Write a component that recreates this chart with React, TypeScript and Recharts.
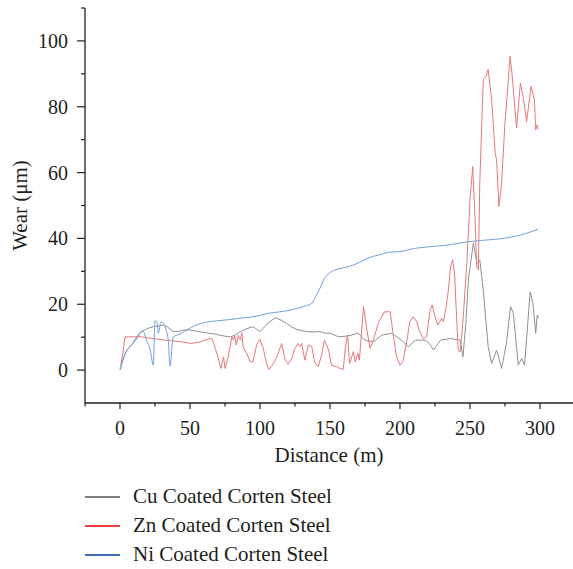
import React from 'react';
import { LineChart, Line, XAxis, YAxis, Legend } from 'recharts';

// Distance (m), wear (μm) pairs
const cuPoints: [number, number][] = [
  [0, 0], [2, 3], [4, 5.5], [7, 7.1], [11, 9], [15, 11.7], [20, 12.7], [24, 13.2], [28, 13.4], [31, 13.7],
  [34, 13.1], [38, 11.7], [43, 11.8], [46, 12.2], [50, 12.2], [56, 11.7], [62, 11.3], [68, 10.9], [75, 10.3],
  [79, 10.1], [83, 10.8], [86, 11.7], [90, 12.5], [95, 13.2], [100, 11.7], [104, 13.5], [108, 15], [111, 15.9],
  [115, 15.2], [119, 14.2], [123, 13], [126, 12.4], [130, 12], [133, 11.7], [138, 11.6], [143, 11.7], [146, 11.2],
  [150, 11.2], [156, 10.1], [161, 10.3], [165, 10.6], [170, 11.2], [175, 9.1], [181, 8.6], [187, 10.6], [194, 11.2],
  [201, 9.1], [206, 7.1], [211, 9.1], [218, 9.1], [221, 8.1], [224, 6.1], [229, 9.1], [236, 9.6], [243, 9.1],
  [245, 4], [247, 14], [249, 28], [252.4, 38.5], [255, 32.4], [257, 33.5], [259.5, 24.3], [263, 7.1], [265.5, 2],
  [269, 6.1], [272.6, 0.5], [276, 8.1], [279, 19.3], [281, 17.2], [284.5, 1.5], [287, 3.5], [289, 1.5],
  [293, 23.8], [295, 20.3], [297, 11.2], [298, 16.7], [299, 15.7],
];

const znPoints: [number, number][] = [
  [0.5, 1.5], [2, 5], [3.6, 10.1], [6, 10.1], [15, 10.1], [25, 9.5], [32, 9.1], [44, 8.6], [51, 8.1], [58, 8.6],
  [64, 9.6], [66, 9.4], [68, 6.6], [70, 4], [72, 0.5], [74, 4], [75, 0.5], [77, 3.5], [80, 10.1], [81, 9.1],
  [82, 10.3], [83, 7.6], [84.5, 10.6], [86, 9.1], [87, 11.4], [88, 7.1], [89, 6.1], [90.5, 5.1], [93, 2.5],
  [95, 2.5], [97.6, 7.6], [100, 9.3], [102, 7.1], [105, 1.5], [106.4, 0.2], [108, 1], [111, 3], [113, 5.1],
  [115.5, 8.1], [118, 3], [120, 1.8], [122.6, 3.5], [125, 6.6], [127, 8.1], [128.6, 7.1], [129.8, 8.1], [132, 3],
  [134.5, 7.6], [137, 7.1], [139, 2.5], [141.6, 1], [144, 4.6], [146, 9.1], [149, 6.1], [151, 1.5], [155, 1],
  [157, 0.5], [159.5, 0.2], [161, 7.1], [162.6, 10.6], [164, 2], [166.7, 5.6], [168, 2.5], [170, 5.1], [171, 3],
  [174, 19.3], [176, 13.2], [178.6, 6.6], [181, 9.1], [184.5, 14.2], [187, 16.2], [189, 17.7], [193, 17.7],
  [195, 11.2], [197.6, 4], [200, 1.5], [202, 2.5], [205, 9.1], [207, 14.7], [209.5, 16.2], [212, 14.7],
  [214, 11.7], [216.7, 9.6], [219, 10.1], [221.5, 18], [223, 19.8], [225, 16.2], [227, 13.7], [229.8, 15.7],
  [231, 14.7], [233, 19.3], [234.5, 24], [236, 31], [237.6, 33.5], [239, 29.4], [240, 20], [241.6, 6.1],
  [243, 5.5], [245, 15], [247.6, 31.4], [250, 51.7], [252, 61.8], [253.6, 46.6], [254.8, 31.4], [256, 30.4],
  [257, 56.8], [259.5, 88.2], [261.4, 89.2], [263, 91.3], [265.5, 82.1], [268, 65.9], [269, 63.9], [270.7, 49.7],
  [272.6, 56.8], [275, 75], [276.7, 84.2], [278.6, 95.3], [280, 90.2], [283.3, 73.5], [286, 87.2], [288, 83],
  [290.5, 75.5], [293.6, 86.2], [296, 82.1], [297, 73], [298, 74.5], [298.8, 73.2],
];

const niPoints: [number, number][] = [
  [0, 0], [2, 3], [5, 6], [8, 7.5], [11, 9.5], [14, 11.2], [16.7, 11.7], [19, 9], [21.4, 6.6], [23.8, 1.5],
  [25, 15], [26.5, 14.3], [27.4, 11.2], [29.3, 14.7], [33, 12.2], [34.5, 9], [35.7, 1.3], [38, 10], [44, 11.2],
  [51, 13], [58, 14.2], [68, 14.9], [75, 15.2], [85, 15.7], [95, 16.2], [107, 17.3], [119, 18], [131, 19.3],
  [137, 20.3], [140, 22.5], [143, 25], [146, 27.8], [151, 29.9], [157, 30.8], [163, 31.4], [170, 32.5],
  [177, 34], [185, 35], [192, 35.8], [200, 36], [211, 37], [222, 37.5], [234, 38], [249, 39], [258, 39.4],
  [270, 39.8], [282, 40.6], [290, 41.5], [298.6, 42.8],
];

const seriesNames = ['Cu Coated Corten Steel', 'Zn Coated Corten Steel', 'Ni Coated Corten Steel'];
const plotColors = ['#909090', '#e87878', '#70a0de'];
const legendColors = ['#808080', '#ee4040', '#3f6db5'];

const xTicks = [-25, 0, 25, 50, 75, 100, 125, 150, 175, 200, 225, 250, 275, 300];
const xLabelTicks = [0, 50, 100, 150, 200, 250, 300];
const yTicks = [0, 10, 20, 30, 40, 50, 60, 70, 80, 90, 100, 110];
const yLabelTicks = [0, 20, 40, 60, 80, 100];

const FONT = '"Liberation Serif", "DejaVu Serif", serif';
const INK = '#231f20';

const toRows = (pts: [number, number][]) => pts.map(([d, v]) => ({ d, v }));
const cuData = toRows(cuPoints);
const znData = toRows(znPoints);
const niData = toRows(niPoints);

const XTick = (props: any) => {
  const { x, y, payload } = props;
  const major = xLabelTicks.includes(payload.value);
  const len = major ? 6 : 3.5;
  return (
    <g>
      <line x1={x} x2={x} y1={y} y2={y + len} stroke={INK} strokeWidth={1.2} />
      {major && (
        <text x={x} y={y + 32} textAnchor="middle" fontFamily={FONT} fontSize={20} fill={INK}>
          {payload.value}
        </text>
      )}
    </g>
  );
};

const YTick = (props: any) => {
  const { x, y, payload } = props;
  const major = yLabelTicks.includes(payload.value);
  const len = major ? 8 : 4;
  return (
    <g>
      <line x1={x - len} x2={x} y1={y} y2={y} stroke={INK} strokeWidth={1.2} />
      {major && (
        <text x={x - 17} y={y} dy="0.35em" textAnchor="end" fontFamily={FONT} fontSize={20} fill={INK}>
          {payload.value}
        </text>
      )}
    </g>
  );
};

const LegendContent = () => (
  <div style={{ fontFamily: FONT, fontSize: 21, color: INK }}>
    {seriesNames.map((name, i) => (
      <div key={name} style={{ display: 'flex', alignItems: 'center', height: 29 }}>
        <svg width={35} height={4} style={{ display: 'block' }}>
          <line x1={0} x2={35} y1={2} y2={2} stroke={legendColors[i]} strokeWidth={2} />
        </svg>
        <span style={{ marginLeft: 13, whiteSpace: 'nowrap', lineHeight: '29px' }}>{name}</span>
      </div>
    ))}
  </div>
);

export default function App() {
  return (
    <div style={{ position: 'absolute', left: 0, top: 0, background: '#fff' }}>
      <LineChart width={573} height={569} margin={{ top: 8, right: 0, bottom: 0, left: 0 }}>
        <XAxis
          type="number"
          dataKey="d"
          domain={[-25, 323.6]}
          ticks={xTicks}
          interval={0}
          allowDataOverflow
          height={166}
          tickSize={0}
          tickMargin={0}
          tickLine={false}
          tick={<XTick />}
          axisLine={{ stroke: INK, strokeWidth: 1.3 }}
          label={(p: any) => {
            const vb = p.viewBox;
            return (
              <text x={vb.x + vb.width / 2} y={vb.y + 59} textAnchor="middle" fontFamily={FONT} fontSize={21} fill={INK}>
                Distance (m)
              </text>
            );
          }}
        />
        <YAxis
          type="number"
          domain={[-10, 110]}
          ticks={yTicks}
          interval={0}
          allowDataOverflow
          width={85}
          tickSize={0}
          tickMargin={0}
          tickLine={false}
          tick={<YTick />}
          axisLine={{ stroke: INK, strokeWidth: 1.3 }}
          label={(p: any) => {
            const vb = p.viewBox;
            const cx = vb.x + 27;
            const cy = vb.y + vb.height / 2;
            return (
              <text x={cx} y={cy} transform={`rotate(-90, ${cx}, ${cy})`} textAnchor="middle" fontFamily={FONT} fontSize={21} fill={INK}>
                Wear (μm)
              </text>
            );
          }}
        />
        <Legend
          layout="vertical"
          align="center"
          verticalAlign="middle"
          content={<LegendContent />}
          wrapperStyle={{ left: 85, top: 482, width: 320, height: 90 }}
        />
        <Line data={cuData} dataKey="v" name={seriesNames[0]} type="linear" stroke={plotColors[0]} strokeWidth={1} dot={false} activeDot={false} isAnimationActive={false} />
        <Line data={znData} dataKey="v" name={seriesNames[1]} type="linear" stroke={plotColors[1]} strokeWidth={1} dot={false} activeDot={false} isAnimationActive={false} />
        <Line data={niData} dataKey="v" name={seriesNames[2]} type="monotone" stroke={plotColors[2]} strokeWidth={1} dot={false} activeDot={false} isAnimationActive={false} />
      </LineChart>
    </div>
  );
}
